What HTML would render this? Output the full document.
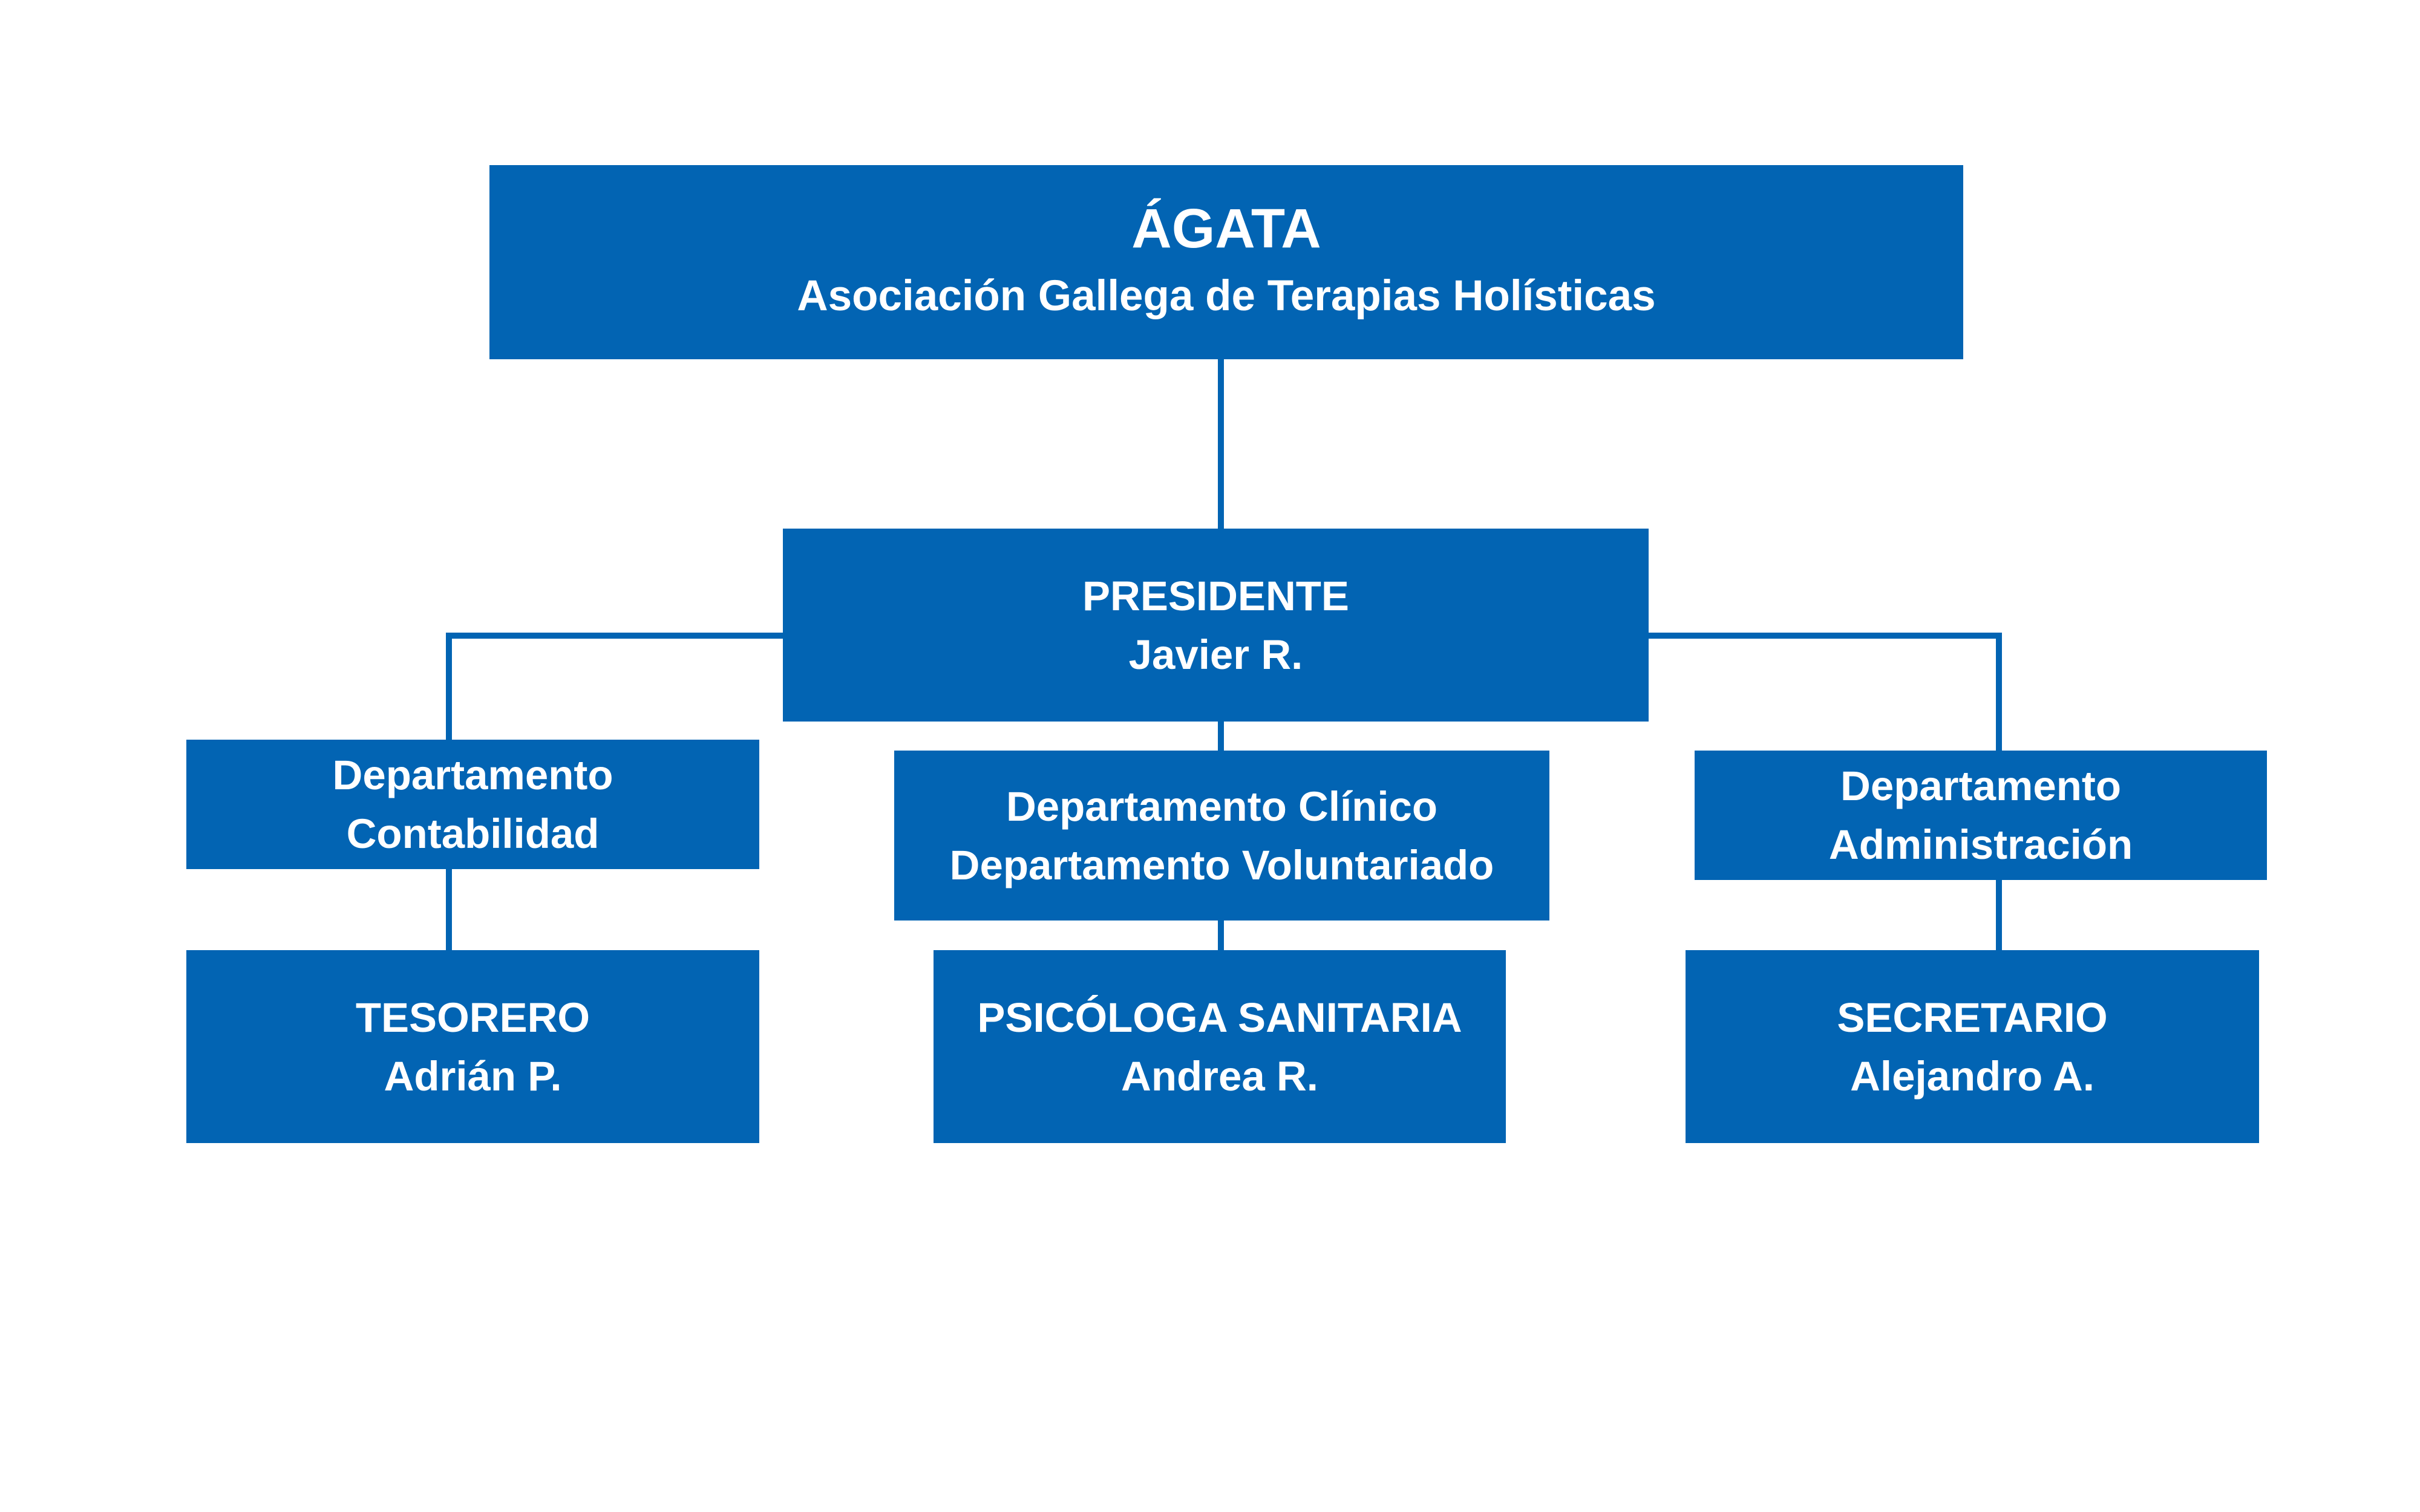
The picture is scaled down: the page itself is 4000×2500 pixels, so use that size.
<!DOCTYPE html>
<html><head><meta charset="utf-8"><style>
html,body{margin:0;padding:0;background:#fff;}
body{width:4000px;height:2500px;position:relative;overflow:hidden;font-family:"Liberation Sans","DejaVu Sans",sans-serif;}
.b{position:absolute;background:#0264B3;color:#fff;font-weight:bold;display:flex;flex-direction:column;align-items:center;justify-content:center;text-align:center;font-size:69px;line-height:97px;}
.l{position:absolute;background:#0264B3;}
</style></head><body>
<div class="l" style="left:2013px;top:587px;width:10px;height:300px"></div>
<div class="l" style="left:2013px;top:1184px;width:10px;height:60px"></div>
<div class="l" style="left:2013px;top:1512px;width:10px;height:60px"></div>
<div class="l" style="left:737px;top:1046px;width:570px;height:10px"></div>
<div class="l" style="left:737px;top:1046px;width:10px;height:180px"></div>
<div class="l" style="left:737px;top:1432px;width:10px;height:140px"></div>
<div class="l" style="left:2715px;top:1046px;width:594px;height:10px"></div>
<div class="l" style="left:3299px;top:1046px;width:10px;height:200px"></div>
<div class="l" style="left:3299px;top:1449px;width:10px;height:125px"></div>

<div class="b" style="left:809px;top:273px;width:2436px;height:321px"><div style="font-size:92px;line-height:112px">ÁGATA</div><div style="font-size:71px;line-height:112px">Asociación Gallega de Terapias Holísticas</div></div>
<div class="b" style="left:1294px;top:874px;width:1431px;height:319px"><div>PRESIDENTE</div><div>Javier R.</div></div>
<div class="b" style="left:308px;top:1223px;width:947px;height:214px"><div>Departamento</div><div>Contabilidad</div></div>
<div class="b" style="left:1478px;top:1241px;width:1083px;height:281px"><div>Departamento Clínico</div><div>Departamento Voluntariado</div></div>
<div class="b" style="left:2801px;top:1241px;width:946px;height:214px"><div>Departamento</div><div>Administración</div></div>
<div class="b" style="left:308px;top:1571px;width:947px;height:319px"><div>TESORERO</div><div>Adrián P.</div></div>
<div class="b" style="left:1543px;top:1571px;width:946px;height:319px"><div>PSICÓLOGA SANITARIA</div><div>Andrea R.</div></div>
<div class="b" style="left:2786px;top:1571px;width:948px;height:319px"><div>SECRETARIO</div><div>Alejandro A.</div></div>
</body></html>
